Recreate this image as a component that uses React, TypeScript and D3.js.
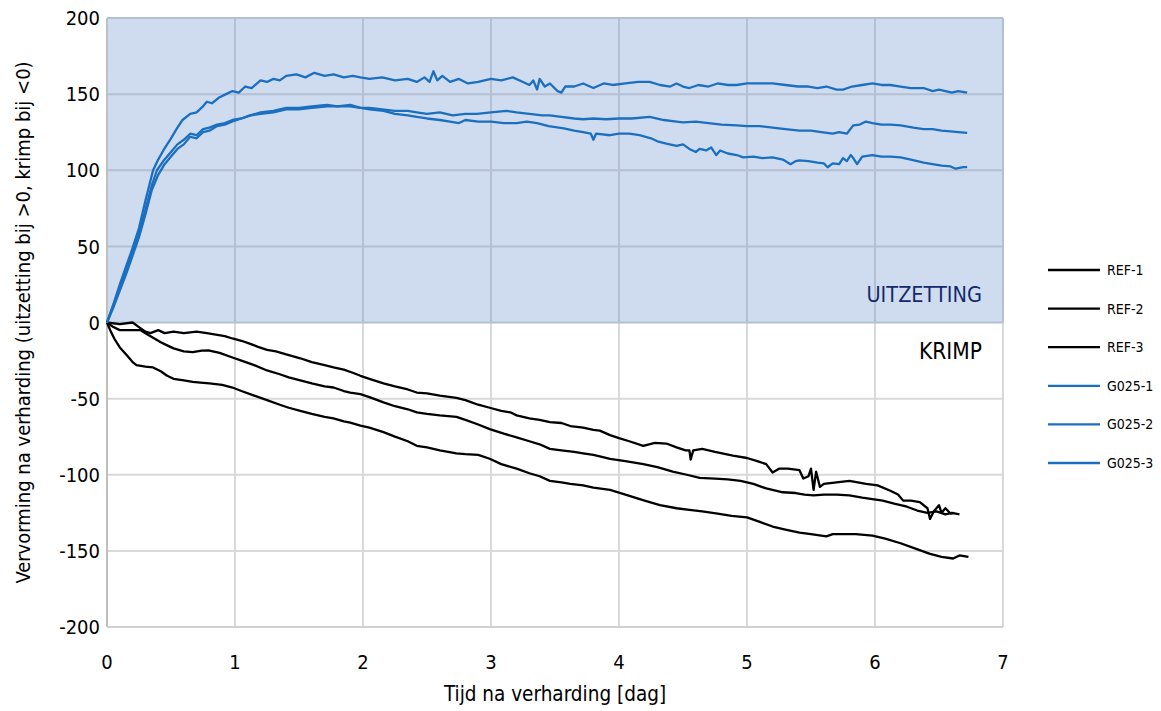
import React from "react";
import * as d3 from "d3";

type P = [number, number];

const xTicks = [0, 1, 2, 3, 4, 5, 6, 7];
const yTicks = [200, 150, 100, 50, 0, -50, -100, -150, -200];
const seriesNames = ["REF-1", "REF-2", "REF-3", "G025-1", "G025-2", "G025-3"];
const seriesColors = ["#000000", "#000000", "#000000", "#1a6fc0", "#1a6fc0", "#1a6fc0"];

const g025_1: P[] = [[0,0],[0.05,12],[0.1,25],[0.15,37],[0.2,49],[0.25,62],[0.3,80],[0.36,100],[0.4,107],[0.44,113],[0.5,121],[0.55,128],[0.59,133],[0.65,137],[0.7,138],[0.75,142],[0.78,145],[0.82,144],[0.88,148],[0.93,150],[0.98,152],[1.03,151],[1.08,155],[1.13,154],[1.2,159],[1.25,158],[1.3,160],[1.35,159],[1.4,162],[1.48,163],[1.55,161],[1.62,164],[1.7,162],[1.77,163],[1.85,161],[1.92,162],[1.98,161],[2.05,160],[2.15,161],[2.25,159],[2.35,160],[2.42,158],[2.48,161],[2.52,158],[2.55,165],[2.58,159],[2.62,162],[2.68,158],[2.75,160],[2.82,157],[2.9,158],[3.0,160],[3.08,159],[3.17,161],[3.25,158],[3.3,156],[3.33,159],[3.36,153],[3.38,160],[3.42,155],[3.46,157],[3.52,152],[3.55,151],[3.58,155],[3.65,155],[3.72,157],[3.8,154],[3.88,157],[3.95,156],[4.05,157],[4.15,158],[4.24,158],[4.32,156],[4.4,155],[4.45,157],[4.5,155],[4.55,154],[4.62,156],[4.7,155],[4.77,157],[4.85,156],[4.92,156],[5.0,157],[5.1,157],[5.2,157],[5.3,156],[5.4,155],[5.48,155],[5.55,154],[5.62,155],[5.7,153],[5.75,153],[5.82,155],[5.9,156],[5.98,157],[6.05,156],[6.12,156],[6.2,155],[6.28,154],[6.38,154],[6.45,152],[6.5,153],[6.55,152],[6.6,151],[6.65,152],[6.72,151]];

const g025_2: P[] = [[0,0],[0.05,11],[0.1,23],[0.15,34],[0.2,46],[0.25,58],[0.3,74],[0.35,90],[0.39,100],[0.44,106],[0.49,111],[0.55,117],[0.6,120],[0.65,124],[0.7,123],[0.75,127],[0.8,128],[0.86,130],[0.92,131],[0.98,133],[1.05,134],[1.12,136],[1.2,138],[1.3,139],[1.4,141],[1.5,141],[1.6,142],[1.72,143],[1.8,142],[1.9,143],[1.98,141],[2.05,141],[2.15,140],[2.25,139],[2.35,139],[2.42,138],[2.5,137],[2.6,138],[2.7,136],[2.8,137],[2.89,137],[3.0,138],[3.12,139],[3.2,138],[3.3,137],[3.4,136],[3.46,136],[3.55,135],[3.65,134],[3.72,133.5],[3.8,134],[3.9,133.5],[4.0,134],[4.1,134],[4.24,135],[4.35,133],[4.45,132],[4.5,131.5],[4.6,132],[4.7,131],[4.8,130],[4.92,129.5],[5.0,129],[5.1,129],[5.2,128],[5.3,127],[5.41,126],[5.5,126],[5.58,125],[5.67,124],[5.72,125],[5.78,124],[5.83,129.5],[5.88,130],[5.93,132],[5.98,131],[6.05,130],[6.12,130],[6.2,129.5],[6.3,128],[6.38,127],[6.45,127],[6.52,126],[6.59,125.5],[6.65,125],[6.72,124.5]];

const g025_3: P[] = [[0,0],[0.05,10],[0.1,21],[0.15,32],[0.2,44],[0.25,56],[0.3,71],[0.35,87],[0.4,97],[0.45,104],[0.5,109],[0.55,114],[0.6,117],[0.65,122],[0.7,121],[0.75,125],[0.8,126],[0.86,129],[0.92,130],[0.98,132],[1.05,134],[1.12,136],[1.2,137],[1.3,138],[1.4,140],[1.5,140],[1.6,141],[1.72,142],[1.8,142],[1.9,142],[1.98,141],[2.05,140],[2.16,139],[2.25,137],[2.35,136],[2.42,135],[2.5,134],[2.6,133],[2.68,132],[2.75,131],[2.8,133],[2.9,132],[3.0,132],[3.1,131],[3.2,131],[3.28,132],[3.36,131],[3.45,129],[3.57,127.5],[3.65,126],[3.72,125],[3.78,124],[3.8,120],[3.82,124],[3.93,123],[4.0,124],[4.08,124],[4.16,123],[4.25,121],[4.3,119],[4.37,117.5],[4.45,116],[4.5,117],[4.55,114],[4.6,112],[4.63,114],[4.68,113],[4.72,115],[4.76,110],[4.79,113],[4.85,111],[4.92,110],[4.97,108.5],[5.05,109],[5.12,108],[5.2,108.5],[5.28,107],[5.34,104],[5.38,106],[5.41,106.5],[5.48,106],[5.55,105],[5.6,104.5],[5.63,102],[5.67,104.5],[5.72,104],[5.75,108],[5.78,106],[5.81,110],[5.83,108],[5.86,104],[5.9,109],[5.98,110],[6.05,109],[6.12,109],[6.2,108.5],[6.28,107],[6.38,105],[6.45,104],[6.52,103],[6.59,102.5],[6.63,101],[6.69,102],[6.72,102]];

const ref1: P[] = [[0,0],[0.1,-1],[0.2,0],[0.25,-3],[0.3,-6],[0.34,-7],[0.4,-5],[0.45,-7],[0.52,-6],[0.6,-7],[0.7,-6],[0.78,-7],[0.85,-8],[0.92,-9],[0.98,-10.5],[1.05,-12],[1.12,-14],[1.18,-16],[1.25,-18],[1.32,-19],[1.4,-21],[1.51,-23.5],[1.6,-26],[1.7,-28],[1.77,-29.5],[1.85,-31],[1.92,-33],[1.98,-35],[2.05,-37],[2.16,-40],[2.25,-42],[2.35,-44],[2.42,-46],[2.5,-46.5],[2.6,-48],[2.73,-49.5],[2.8,-51],[2.9,-54],[2.99,-56],[3.08,-58],[3.15,-59],[3.2,-61],[3.3,-63],[3.38,-64],[3.46,-65.5],[3.55,-66],[3.62,-68],[3.72,-69],[3.8,-70.5],[3.85,-71],[3.93,-74],[4.0,-76],[4.08,-78],[4.19,-81],[4.28,-79],[4.37,-79.5],[4.45,-82],[4.52,-84],[4.55,-84],[4.56,-90],[4.58,-84],[4.65,-83],[4.75,-85],[4.89,-87.5],[5.0,-89],[5.08,-91],[5.15,-93],[5.2,-98.5],[5.25,-96],[5.32,-96],[5.41,-97],[5.44,-102.5],[5.48,-101],[5.5,-96],[5.52,-110],[5.54,-98],[5.57,-108],[5.6,-106],[5.7,-105],[5.8,-104],[5.93,-106],[6.02,-107],[6.12,-110.5],[6.18,-113],[6.22,-117],[6.28,-117],[6.35,-118],[6.41,-122],[6.43,-129],[6.46,-124],[6.5,-120],[6.52,-125],[6.55,-122],[6.59,-125.5],[6.62,-125]];

const ref2: P[] = [[0,0],[0.05,-3],[0.1,-5],[0.18,-5],[0.26,-5],[0.3,-7],[0.36,-10],[0.42,-13],[0.47,-15],[0.52,-17],[0.6,-19],[0.67,-19.5],[0.74,-18.5],[0.8,-18.4],[0.88,-20],[0.98,-23],[1.05,-25],[1.15,-28],[1.25,-31.5],[1.35,-34],[1.42,-36],[1.51,-38],[1.6,-40],[1.7,-42],[1.77,-42.7],[1.85,-45],[1.9,-46],[1.98,-47],[2.05,-49],[2.16,-52.5],[2.25,-55],[2.35,-57],[2.42,-59],[2.5,-60],[2.6,-61],[2.73,-62],[2.8,-64],[2.9,-67],[2.99,-70],[3.1,-73],[3.2,-75.5],[3.3,-78],[3.38,-80],[3.46,-83],[3.55,-84],[3.65,-85],[3.72,-86],[3.8,-87],[3.85,-88],[3.93,-89.5],[4.05,-91],[4.19,-93],[4.3,-95],[4.42,-98],[4.53,-100],[4.63,-102],[4.75,-102.5],[4.85,-103],[4.95,-104],[5.05,-106],[5.15,-109],[5.28,-111.5],[5.38,-112],[5.45,-113],[5.52,-113.5],[5.6,-113],[5.7,-113],[5.8,-113.5],[5.9,-115],[6.06,-117],[6.15,-119],[6.25,-121],[6.33,-123.5],[6.41,-125],[6.48,-124],[6.55,-126],[6.6,-125],[6.66,-126]];

const ref3: P[] = [[0,0],[0.03,-6],[0.06,-11],[0.1,-16.4],[0.15,-21],[0.2,-26],[0.23,-28],[0.3,-29],[0.36,-29.5],[0.42,-32],[0.47,-35],[0.52,-37],[0.6,-38],[0.67,-39],[0.73,-39.5],[0.8,-40],[0.9,-41],[0.98,-42.7],[1.05,-45],[1.15,-48],[1.25,-51],[1.35,-54],[1.42,-56],[1.51,-58],[1.6,-60],[1.7,-62],[1.77,-63],[1.85,-65],[1.9,-65.7],[1.98,-67.7],[2.05,-69],[2.16,-72],[2.25,-75],[2.35,-78],[2.42,-81],[2.5,-82],[2.6,-84],[2.73,-86],[2.8,-86.5],[2.9,-87],[2.99,-89.5],[3.08,-93],[3.2,-96],[3.3,-99],[3.38,-101],[3.46,-104],[3.55,-105],[3.62,-106],[3.72,-107],[3.8,-108.5],[3.93,-110],[4.05,-113],[4.2,-117],[4.32,-120],[4.45,-122],[4.55,-123],[4.65,-124],[4.77,-125.5],[4.88,-127],[5.0,-128],[5.1,-131],[5.2,-134],[5.3,-136],[5.41,-138],[5.5,-139],[5.62,-140.5],[5.67,-139],[5.75,-139],[5.85,-139],[5.98,-140],[6.08,-142],[6.2,-145],[6.3,-148],[6.43,-152],[6.52,-154],[6.61,-155],[6.66,-153],[6.73,-154]];

const seriesData: P[][] = [ref1, ref2, ref3, g025_1, g025_2, g025_3];

const FONT = "'Liberation Sans Narrow', 'DejaVu Sans Condensed', 'Open Sans', sans-serif";

export default function App() {
  const W = 1161, H = 711;
  const left = 107, right = 1003, top = 18, bottom = 627;
  const x = d3.scaleLinear().domain([0, 7]).range([left, right]);
  const y = d3.scaleLinear().domain([-200, 200]).range([bottom, top]);
  const line = d3.line<P>().x(d => x(d[0])).y(d => y(d[1]));

  return (
    <svg width={W} height={H} style={{ position: "absolute", left: 0, top: 0, background: "#fff" }} fontFamily={FONT}>
      <rect x={left} y={y(200)} width={right - left} height={y(0) - y(200)} fill="#cfdcef" />
      {xTicks.map(t => (
        <line key={"gw" + t} x1={x(t)} x2={x(t)} y1={y(0)} y2={bottom} stroke="#d9d9d9" strokeWidth={2} />
      ))}
      {yTicks.filter(t => t < 0).map(t => (
        <line key={"hw" + t} x1={left} x2={right} y1={y(t)} y2={y(t)} stroke="#d9d9d9" strokeWidth={2} />
      ))}
      {xTicks.map(t => (
        <line key={"gb" + t} x1={x(t)} x2={x(t)} y1={y(200)} y2={y(0)} stroke="#b4bfd1" strokeWidth={2} />
      ))}
      {yTicks.filter(t => t >= 0).map(t => (
        <line key={"hb" + t} x1={left} x2={right} y1={y(t)} y2={y(t)} stroke="#b4bfd1" strokeWidth={2} />
      ))}
      <line x1={left} x2={left} y1={top} y2={bottom} stroke="#bfbfbf" strokeWidth={2} />
      <line x1={left} x2={right} y1={bottom} y2={bottom} stroke="#d0d0d0" strokeWidth={2} />
      {seriesData.map((s, i) => (
        <path key={seriesNames[i]} d={line(s) || ""} fill="none" stroke={seriesColors[i]} strokeWidth={2.3} strokeLinejoin="round" />
      ))}
      {yTicks.map(t => (
        <text key={"yl" + t} x={left - 7} y={y(t)} dy="0.36em" textAnchor="end" fontSize={20} fill="#000">{t}</text>
      ))}
      {xTicks.map(t => (
        <text key={"xl" + t} x={x(t)} y={669} textAnchor="middle" fontSize={20} fill="#000">{t}</text>
      ))}
      <text x={(left + right) / 2} y={701} textAnchor="middle" fontSize={20.5} fill="#000">Tijd na verharding [dag]</text>
      <text transform={`translate(30,${(top + bottom) / 2}) rotate(-90)`} textAnchor="middle" fontSize={20} fill="#000">Vervorming na verharding (uitzetting bij &gt;0, krimp bij &lt;0)</text>
      <text x={982} y={302} textAnchor="end" fontSize={21.5} fill="#14296b">UITZETTING</text>
      <text x={982} y={359} textAnchor="end" fontSize={22.5} fill="#000">KRIMP</text>
      {seriesNames.map((n, i) => {
        const ly = 270 + i * 38.6;
        return (
          <g key={"lg" + n}>
            <line x1={1048} x2={1100} y1={ly} y2={ly} stroke={seriesColors[i]} strokeWidth={2.3} />
            <text x={1107} y={ly} dy="0.35em" fontSize={14} fill="#000">{n}</text>
          </g>
        );
      })}
    </svg>
  );
}
